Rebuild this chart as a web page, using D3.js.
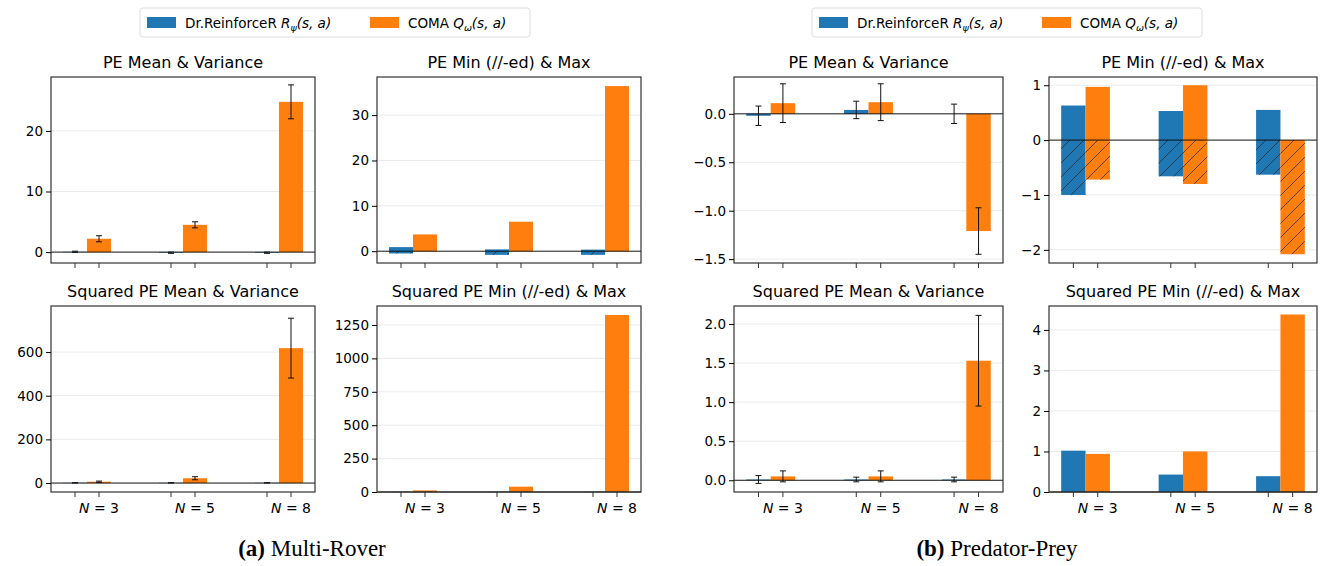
<!DOCTYPE html>
<html><head><meta charset="utf-8">
<script src="https://cdn.jsdelivr.net/npm/d3@7"></script>
<style>body{margin:0;background:#fff}svg{font-family:"DejaVu Sans",sans-serif}</style>
</head><body><svg id="c" width="1320" height="566"></svg>
<script>
const categories = ["N = 3","N = 5","N = 8"];
const legendLabels = ["Dr.ReinforceR","COMA"];
// Multi-Rover
const roverPEMeanBlue=[0.05,-0.1,-0.1], roverPEErrBlue=[0.1,0.1,0.1];
const roverPEMeanOrange=[2.2,4.5,24.8], roverPEErrOrange=[0.5,0.5,2.8];
const roverPEMaxBlue=[0.9,0.4,0.35], roverPEMinBlue=[-0.5,-0.8,-0.8];
const roverPEMaxOrange=[3.7,6.5,36.4], roverPEMinOrange=[-0.05,-0.05,-0.05];
const roverSqMeanBlue=[1,1,1], roverSqErrBlue=[0.5,0.5,0.5];
const roverSqMeanOrange=[6,22,618], roverSqErrOrange=[3,7,137];
const roverSqMaxBlue=[1,1,1], roverSqMaxOrange=[12,40,1325];
// Predator-Prey
const predPEMeanBlue=[-0.02,0.04,0.0], predPEErrBlue=[0.1,0.09,0.1];
const predPEMeanOrange=[0.11,0.12,-1.21], predPEErrOrange=[0.2,0.19,0.24];
const predPEMaxBlue=[0.63,0.53,0.55], predPEMinBlue=[-1.0,-0.66,-0.63];
const predPEMaxOrange=[0.97,1.0,0], predPEMinOrange=[-0.72,-0.8,-2.08];
const predSqMeanBlue=[0.01,0.01,0.01], predSqErrBlue=[0.05,0.03,0.03];
const predSqMeanOrange=[0.05,0.05,1.53], predSqErrOrange=[0.07,0.07,0.58];
const predSqMaxBlue=[1.02,0.43,0.39], predSqMaxOrange=[0.94,1.0,4.38];
// ticks
const ticksA1=[0,10,20], ticksA2=[0,10,20,30], ticksA3=[0,200,400,600], ticksA4=[0,250,500,750,1000,1250];
const ticksB1=[0,-0.5,-1,-1.5], ticksB2=[-2,-1,0,1], ticksB3=[0,0.5,1,1.5,2], ticksB4=[0,1,2,3,4];

const BLUE="#1f77b4", ORANGE="#ff7f0e";
const svg=d3.select("#c");
const defs=svg.append("defs");
const pat=defs.append("pattern").attr("id","hatch").attr("patternUnits","userSpaceOnUse").attr("width",14).attr("height",14);
pat.append("path").attr("d","M-1,15 L15,-1 M-8,8 L8,-8 M6,22 L22,6").attr("stroke","#222").attr("stroke-width",0.7);

function panel(o){
  const g=svg.append("g").attr("transform",`translate(${o.x},${o.y})`);
  const W=o.w,H=o.h;
  const x=d3.scaleLinear().domain([-0.375,2.375]).range([0,W]);
  const y=d3.scaleLinear().domain(o.dom).range([H,0]);
  g.selectAll(".grid").data(o.ticks).join("line").attr("x1",0).attr("x2",W)
    .attr("y1",d=>y(d)).attr("y2",d=>y(d)).attr("stroke","#ebebeb").attr("stroke-width",1);
  const bw=x(0.25)-x(0);
  const off=[-0.125,0.125], cols=[BLUE,ORANGE];
  const drawBars=(vals,s,hatch)=>{
    g.selectAll(null).data(vals).join("rect")
      .attr("x",(d,i)=>x(i+off[s])-bw/2).attr("width",bw)
      .attr("y",d=>y(Math.max(0,d))).attr("height",d=>Math.abs(y(d)-y(0)))
      .attr("fill",cols[s]);
    if(hatch) g.selectAll(null).data(vals).join("rect")
      .attr("x",(d,i)=>x(i+off[s])-bw/2).attr("width",bw)
      .attr("y",d=>y(Math.max(0,d))).attr("height",d=>Math.abs(y(d)-y(0)))
      .attr("fill","url(#hatch)");
  };
  o.series.forEach(s=>{drawBars(s.max,s.s,false); if(s.min) drawBars(s.min,s.s,true);});
  g.append("line").attr("x1",0).attr("x2",W).attr("y1",y(0)).attr("y2",y(0)).attr("stroke","#000").attr("stroke-width",0.9);
  (o.err||[]).forEach(e=>{
    e.m.forEach((m,i)=>{
      const cx=x(i+off[e.s]), y1=y(m-e.e[i]), y2=y(m+e.e[i]);
      g.append("line").attr("x1",cx).attr("x2",cx).attr("y1",y1).attr("y2",y2).attr("stroke","#111");
      [y1,y2].forEach(yy=>g.append("line").attr("x1",cx-3).attr("x2",cx+3).attr("y1",yy).attr("y2",yy).attr("stroke","#111"));
    });
  });
  g.append("rect").attr("width",W).attr("height",H).attr("fill","none").attr("stroke","#333").attr("stroke-width",1.2);
  const ya=d3.axisLeft(y).tickValues(o.ticks).tickSize(5).tickPadding(3).tickFormat(o.fmt||d3.format(""));
  const ay=g.append("g").call(ya); ay.select(".domain").remove();
  ay.selectAll("text").attr("font-size",13.5).attr("font-family","DejaVu Sans").attr("fill","#000");
  const xt=[]; [0,1,2].forEach(i=>{xt.push(i-0.125);xt.push(i+0.125);});
  g.selectAll(null).data(xt).join("line").attr("x1",d=>x(d)).attr("x2",d=>x(d)).attr("y1",H).attr("y2",H+5).attr("stroke","#333");
  if(o.labels) g.selectAll(null).data(categories).join("text").attr("x",(d,i)=>x(i+0.125)).attr("y",H+21)
    .attr("text-anchor","middle").attr("font-size",14).html(d=>`<tspan font-style="italic">N</tspan> = ${d.split("= ")[1]}`);
  g.append("text").attr("x",W/2).attr("y",-9).attr("text-anchor","middle").attr("font-size",16).text(o.title);
}
const f1=d3.format(".1f");
const TOP=77,BOT=306,H=186,W=264;
panel({x:51,y:TOP,w:W,h:H,dom:[-1.8,28.9],ticks:ticksA1,title:"PE Mean & Variance",
  series:[{s:0,max:roverPEMeanBlue},{s:1,max:roverPEMeanOrange}],
  err:[{s:0,m:roverPEMeanBlue,e:roverPEErrBlue},{s:1,m:roverPEMeanOrange,e:roverPEErrOrange}]});
panel({x:377,y:TOP,w:W,h:H,dom:[-2.6,38.4],ticks:ticksA2,title:"PE Min (//-ed) & Max",
  series:[{s:0,max:roverPEMaxBlue,min:roverPEMinBlue},{s:1,max:roverPEMaxOrange,min:roverPEMinOrange}]});
panel({x:51,y:BOT,w:W,h:H,dom:[-41,811],ticks:ticksA3,title:"Squared PE Mean & Variance",labels:true,
  series:[{s:0,max:roverSqMeanBlue},{s:1,max:roverSqMeanOrange}],
  err:[{s:0,m:roverSqMeanBlue,e:roverSqErrBlue},{s:1,m:roverSqMeanOrange,e:roverSqErrOrange}]});
panel({x:377,y:BOT,w:W,h:H,dom:[0,1392],ticks:ticksA4,title:"Squared PE Min (//-ed) & Max",labels:true,
  series:[{s:0,max:roverSqMaxBlue},{s:1,max:roverSqMaxOrange}]});
panel({x:734,y:TOP,w:269,h:H,dom:[-1.54,0.38],ticks:ticksB1,fmt:f1,title:"PE Mean & Variance",
  series:[{s:0,max:predPEMeanBlue},{s:1,max:predPEMeanOrange}],
  err:[{s:0,m:predPEMeanBlue,e:predPEErrBlue},{s:1,m:predPEMeanOrange,e:predPEErrOrange}]});
panel({x:1049,y:TOP,w:268,h:H,dom:[-2.24,1.15],ticks:ticksB2,title:"PE Min (//-ed) & Max",
  series:[{s:0,max:predPEMaxBlue,min:predPEMinBlue},{s:1,max:predPEMaxOrange,min:predPEMinOrange}]});
panel({x:734,y:BOT,w:269,h:H,dom:[-0.15,2.23],ticks:ticksB3,fmt:f1,title:"Squared PE Mean & Variance",labels:true,
  series:[{s:0,max:predSqMeanBlue},{s:1,max:predSqMeanOrange}],
  err:[{s:0,m:predSqMeanBlue,e:predSqErrBlue},{s:1,m:predSqMeanOrange,e:predSqErrOrange}]});
panel({x:1049,y:BOT,w:268,h:H,dom:[0,4.59],ticks:ticksB4,title:"Squared PE Min (//-ed) & Max",labels:true,
  series:[{s:0,max:predSqMaxBlue},{s:1,max:predSqMaxOrange}]});

function legend(x0){
  const g=svg.append("g").attr("transform",`translate(${x0},8)`);
  g.append("rect").attr("width",390).attr("height",29).attr("rx",3).attr("fill","#fff").attr("stroke","#ddd");
  g.append("rect").attr("x",7).attr("y",9).attr("width",29).attr("height",11).attr("fill",BLUE);
  g.append("text").attr("x",45).attr("y",20).attr("font-size",13.5)
    .html(`${legendLabels[0]} <tspan font-style="italic">R</tspan><tspan font-style="italic" font-size="9.5" dy="3">ψ</tspan><tspan dy="-3" font-style="italic">(s, a)</tspan>`);
  g.append("rect").attr("x",230).attr("y",9).attr("width",29).attr("height",11).attr("fill",ORANGE);
  g.append("text").attr("x",268).attr("y",20).attr("font-size",13.5)
    .html(`${legendLabels[1]} <tspan font-style="italic">Q</tspan><tspan font-style="italic" font-size="9.5" dy="3">ω</tspan><tspan dy="-3" font-style="italic">(s, a)</tspan>`);
}
legend(140); legend(812);
function caption(cx,lab,txt){
  svg.append("text").attr("x",cx).attr("y",556).attr("text-anchor","middle").attr("font-family","Liberation Serif").attr("font-size",23)
    .html(`<tspan font-weight="bold">${lab}</tspan>  ${txt}`);
}
caption(312,"(a)","Multi-Rover"); caption(997,"(b)","Predator-Prey");
</script></body></html>
